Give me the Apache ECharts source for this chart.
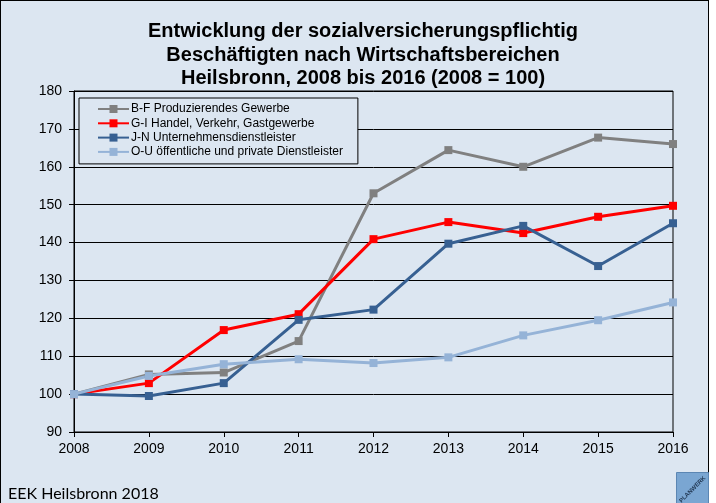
<!DOCTYPE html>
<html>
<head>
<meta charset="utf-8">
<script src="https://cdn.jsdelivr.net/npm/echarts@6/dist/echarts.min.js"></script>
<style>
  body { margin: 0; background: #fff; }
  #bg { position: absolute; left: 0; top: 0; width: 707px; height: 520px; border: 1px solid #000; background: #dce6f1; }
  #chart { position: absolute; left: 0; top: 0; width: 716px; height: 503px; }
</style>
</head>
<body>
<div id="bg"></div>
<div id="chart"></div>
<script>
const years = ['2008', '2009', '2010', '2011', '2012', '2013', '2014', '2015', '2016'];
const seriesNames = [
  'B-F Produzierendes Gewerbe',
  'G-I Handel, Verkehr, Gastgewerbe',
  'J-N Unternehmensdienstleister',
  'O-U öffentliche und private Dienstleister'
];
const produzierend = [100, 105.2, 105.7, 114, 153, 164.4, 160, 167.7, 166];
const handel = [100, 102.9, 116.9, 121.1, 140.9, 145.4, 142.5, 146.8, 149.7];
const unternehmen = [100, 99.5, 102.9, 119.6, 122.3, 139.7, 144.4, 133.8, 145.1];
const oeffentlich = [100, 104.8, 107.9, 109.2, 108.2, 109.7, 115.5, 119.5, 124.2];
const colors = ['#808080', '#ff0000', '#376092', '#95b3d7'];

let myChart = echarts.init(document.getElementById('chart'));

function makeSeries (name, data, color) {
  return {
    name: name,
    type: 'line',
    data: data,
    symbol: 'rect',
    symbolSize: 8,
    color: color,
    lineStyle: { width: 3, color: color },
    itemStyle: { color: color },
    animation: false
  };
}

myChart.setOption({
  backgroundColor: 'transparent',
  textStyle: { fontFamily: 'Liberation Sans, Arial, sans-serif' },
  title: {
    text: 'Entwicklung der sozialversicherungspflichtig\nBeschäftigten nach Wirtschaftsbereichen\nHeilsbronn, 2008 bis 2016 (2008 = 100)',
    left: 358,
    top: 15,
    textAlign: 'center',
    textStyle: {
      fontSize: 20,
      fontWeight: 'bold',
      color: '#000',
      lineHeight: 23.5
    }
  },
  legend: {
    orient: 'vertical',
    left: 79,
    top: 98,
    padding: [5, 15, 6, 18],
    itemGap: 2.3,
    itemWidth: 31,
    itemHeight: 10,
    backgroundColor: '#dce6f1',
    borderColor: '#000',
    borderWidth: 1,
    borderRadius: 0,
    textStyle: { fontSize: 12, color: '#000', padding: [0, 0, 0, -3] },
    data: seriesNames
  },
  grid: {
    left: 74,
    right: 43,
    top: 91,
    bottom: 71,
    show: true,
    borderColor: '#000',
    borderWidth: 1
  },
  xAxis: {
    type: 'category',
    data: years,
    boundaryGap: false,
    axisLine: { lineStyle: { color: '#000', width: 1 } },
    axisTick: { show: true, alignWithLabel: true, length: 5, lineStyle: { color: '#000' } },
    axisLabel: { fontSize: 14, color: '#000', margin: 10 },
    splitLine: { show: false }
  },
  yAxis: {
    type: 'value',
    min: 90,
    max: 180,
    interval: 10,
    axisLine: { show: true, lineStyle: { color: '#000', width: 1 } },
    axisTick: { show: true, length: 5, lineStyle: { color: '#000' } },
    axisLabel: { fontSize: 14, color: '#000', margin: 12 },
    splitLine: { show: true, lineStyle: { color: '#000', width: 1 } }
  },
  series: [
    makeSeries(seriesNames[0], produzierend, colors[0]),
    makeSeries(seriesNames[1], handel, colors[1]),
    makeSeries(seriesNames[2], unternehmen, colors[2]),
    makeSeries(seriesNames[3], oeffentlich, colors[3])
  ],
  graphic: [
    {
      type: 'text',
      left: 8,
      top: 486,
      style: { text: 'EEK Heilsbronn 2018', fontSize: 16, fill: '#000', fontFamily: 'Lato, Liberation Sans, sans-serif' }
    },
    {
      type: 'group',
      left: 676,
      top: 472,
      children: [
        { type: 'rect', shape: { x: 0, y: 0, width: 32, height: 32 }, style: { fill: '#7aa6d2', stroke: '#5b86b3', lineWidth: 1 } },
        { type: 'text', x: 16, y: 17, rotation: Math.PI / 4, style: { text: 'PLANWERK', fontSize: 6, fontWeight: 'bold', fill: '#1f3550', align: 'center', verticalAlign: 'middle', fontFamily: 'Liberation Sans, Arial, sans-serif' } }
      ]
    }
  ]
});
</script>
</body>
</html>
